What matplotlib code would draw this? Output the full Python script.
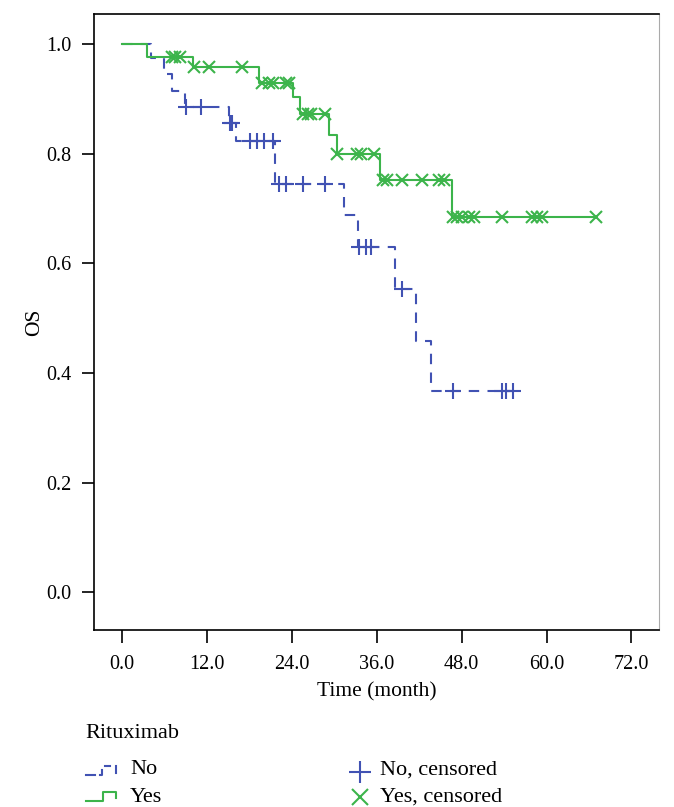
import numpy as np
import matplotlib
matplotlib.use("Agg")
import matplotlib.pyplot as plt
from matplotlib.lines import Line2D

plt.rcParams['font.family'] = ['Liberation Serif', 'DejaVu Serif']

# ---- data ----
no_times = [0, 4.0, 5.9, 7.1, 8.9, 15.1, 16.1, 21.6, 31.4, 33.4, 38.5, 41.6, 43.6]
no_surv = [1.0, 0.974, 0.945, 0.914, 0.886, 0.856, 0.824, 0.744, 0.689, 0.629, 0.554, 0.459, 0.367]
no_end = 55.2
no_censor = [9.0, 11.1, 15.2, 15.5, 18.0, 19.0, 20.0, 21.3, 22.2, 23.1, 25.5, 28.6,
             33.5, 34.5, 35.2, 39.6, 46.7, 53.7, 54.3, 55.2]

yes_times = [0, 3.5, 10.0, 19.3, 24.2, 25.2, 29.3, 30.3, 36.5, 46.6]
yes_surv = [1.0, 0.977, 0.958, 0.930, 0.903, 0.872, 0.835, 0.799, 0.753, 0.684]
yes_end = 67.0
yes_censor = [7.0, 7.5, 8.2, 10.2, 12.2, 17.0, 19.8, 20.8, 21.3, 23.2, 23.6,
              25.5, 26.2, 26.7, 28.6, 30.4, 33.2, 33.8, 35.6,
              36.8, 37.5, 39.6, 42.4, 44.8, 45.5,
              46.7, 47.4, 48.1, 49.1, 49.8, 53.7, 58.0, 58.7, 59.4, 67.0]

xticks = [0, 12, 24, 36, 48, 60, 72]
yticks = [0.0, 0.2, 0.4, 0.6, 0.8, 1.0]

blue = '#4152b3'
green = '#3cb44b'

W, H = 674, 807
fig = plt.figure(figsize=(W / 100, H / 100), dpi=100)
ax = fig.add_axes([94 / W, 1 - 630 / H, (659 - 94) / W, (630 - 14) / H])


def surv_at(times, surv, t):
    i = np.searchsorted(times, t, side='right') - 1
    return np.asarray(surv)[i]


# curves
ax.step(list(no_times) + [no_end], list(no_surv) + [no_surv[-1]], where='post',
        color=blue, lw=1.5, ls=(0, (5, 4)))
ax.step(list(yes_times) + [yes_end], list(yes_surv) + [yes_surv[-1]], where='post',
        color=green, lw=1.5)

ax.plot(no_censor, surv_at(no_times, no_surv, no_censor), ls='none', marker='+',
        ms=12, mew=1.5, color=blue)
ax.plot(yes_censor, surv_at(yes_times, yes_surv, yes_censor), ls='none', marker='x',
        ms=8, mew=1.5, color=green)

ax.set_xlim(-4, 75.9)
ax.set_ylim(-0.069, 1.055)
ax.set_xticks(xticks)
ax.set_xticklabels([f'{v:.1f}' for v in xticks])
ax.set_yticks(yticks)
ax.set_yticklabels([f'{v:.1f}' for v in yticks])
ax.tick_params(direction='out', length=9, width=1.2, labelsize=14.5, colors='black')
ax.tick_params(axis='x', pad=9)
ax.tick_params(axis='y', pad=7)
ax.spines['right'].set_color('#aaaaaa')
for s in ['left', 'bottom', 'top']:
    ax.spines[s].set_linewidth(1.2)
ax.set_xlabel('Time (month)', fontsize=15.5, labelpad=6)
ax.set_ylabel('OS', fontsize=15.5, labelpad=2)

# ---- legend ----
def fx(x):
    return x / W


def fy(y):
    return 1 - y / H


fs = 16
fig.text(fx(85), fy(733), 'Rituximab', fontsize=fs, va='center', ha='left')

# No: dashed step glyph
fig.add_artist(Line2D([fx(86), fx(95)], [fy(775), fy(775)], color=blue, lw=1.5, transform=fig.transFigure))
fig.add_artist(Line2D([fx(100), fx(102), fx(102)], [fy(775), fy(775), fy(770)], color=blue, lw=1.5, transform=fig.transFigure))
fig.add_artist(Line2D([fx(105), fx(110)], [fy(766), fy(766)], color=blue, lw=1.5, transform=fig.transFigure))
fig.add_artist(Line2D([fx(116), fx(116)], [fy(766), fy(773)], color=blue, lw=1.5, transform=fig.transFigure))
fig.text(fx(130), fy(770), 'No', fontsize=fs, va='center', ha='left')

# Yes: solid step glyph
fig.add_artist(Line2D([fx(86), fx(103), fx(103), fx(116), fx(116)],
                      [fy(801), fy(801), fy(792), fy(792), fy(798)],
                      color=green, lw=1.5, transform=fig.transFigure))
fig.text(fx(130), fy(797), 'Yes', fontsize=fs, va='center', ha='left')

fig.add_artist(Line2D([fx(360)], [fy(772)], marker='+', ms=16, mew=1.5, color=blue,
                      transform=fig.transFigure))
fig.text(fx(380), fy(770), 'No, censored', fontsize=fs, va='center', ha='left')
fig.add_artist(Line2D([fx(360)], [fy(797)], marker='x', ms=11, mew=1.5, color=green,
                      transform=fig.transFigure))
fig.text(fx(380), fy(797), 'Yes, censored', fontsize=fs, va='center', ha='left')

fig.savefig('out.png', dpi=100)
